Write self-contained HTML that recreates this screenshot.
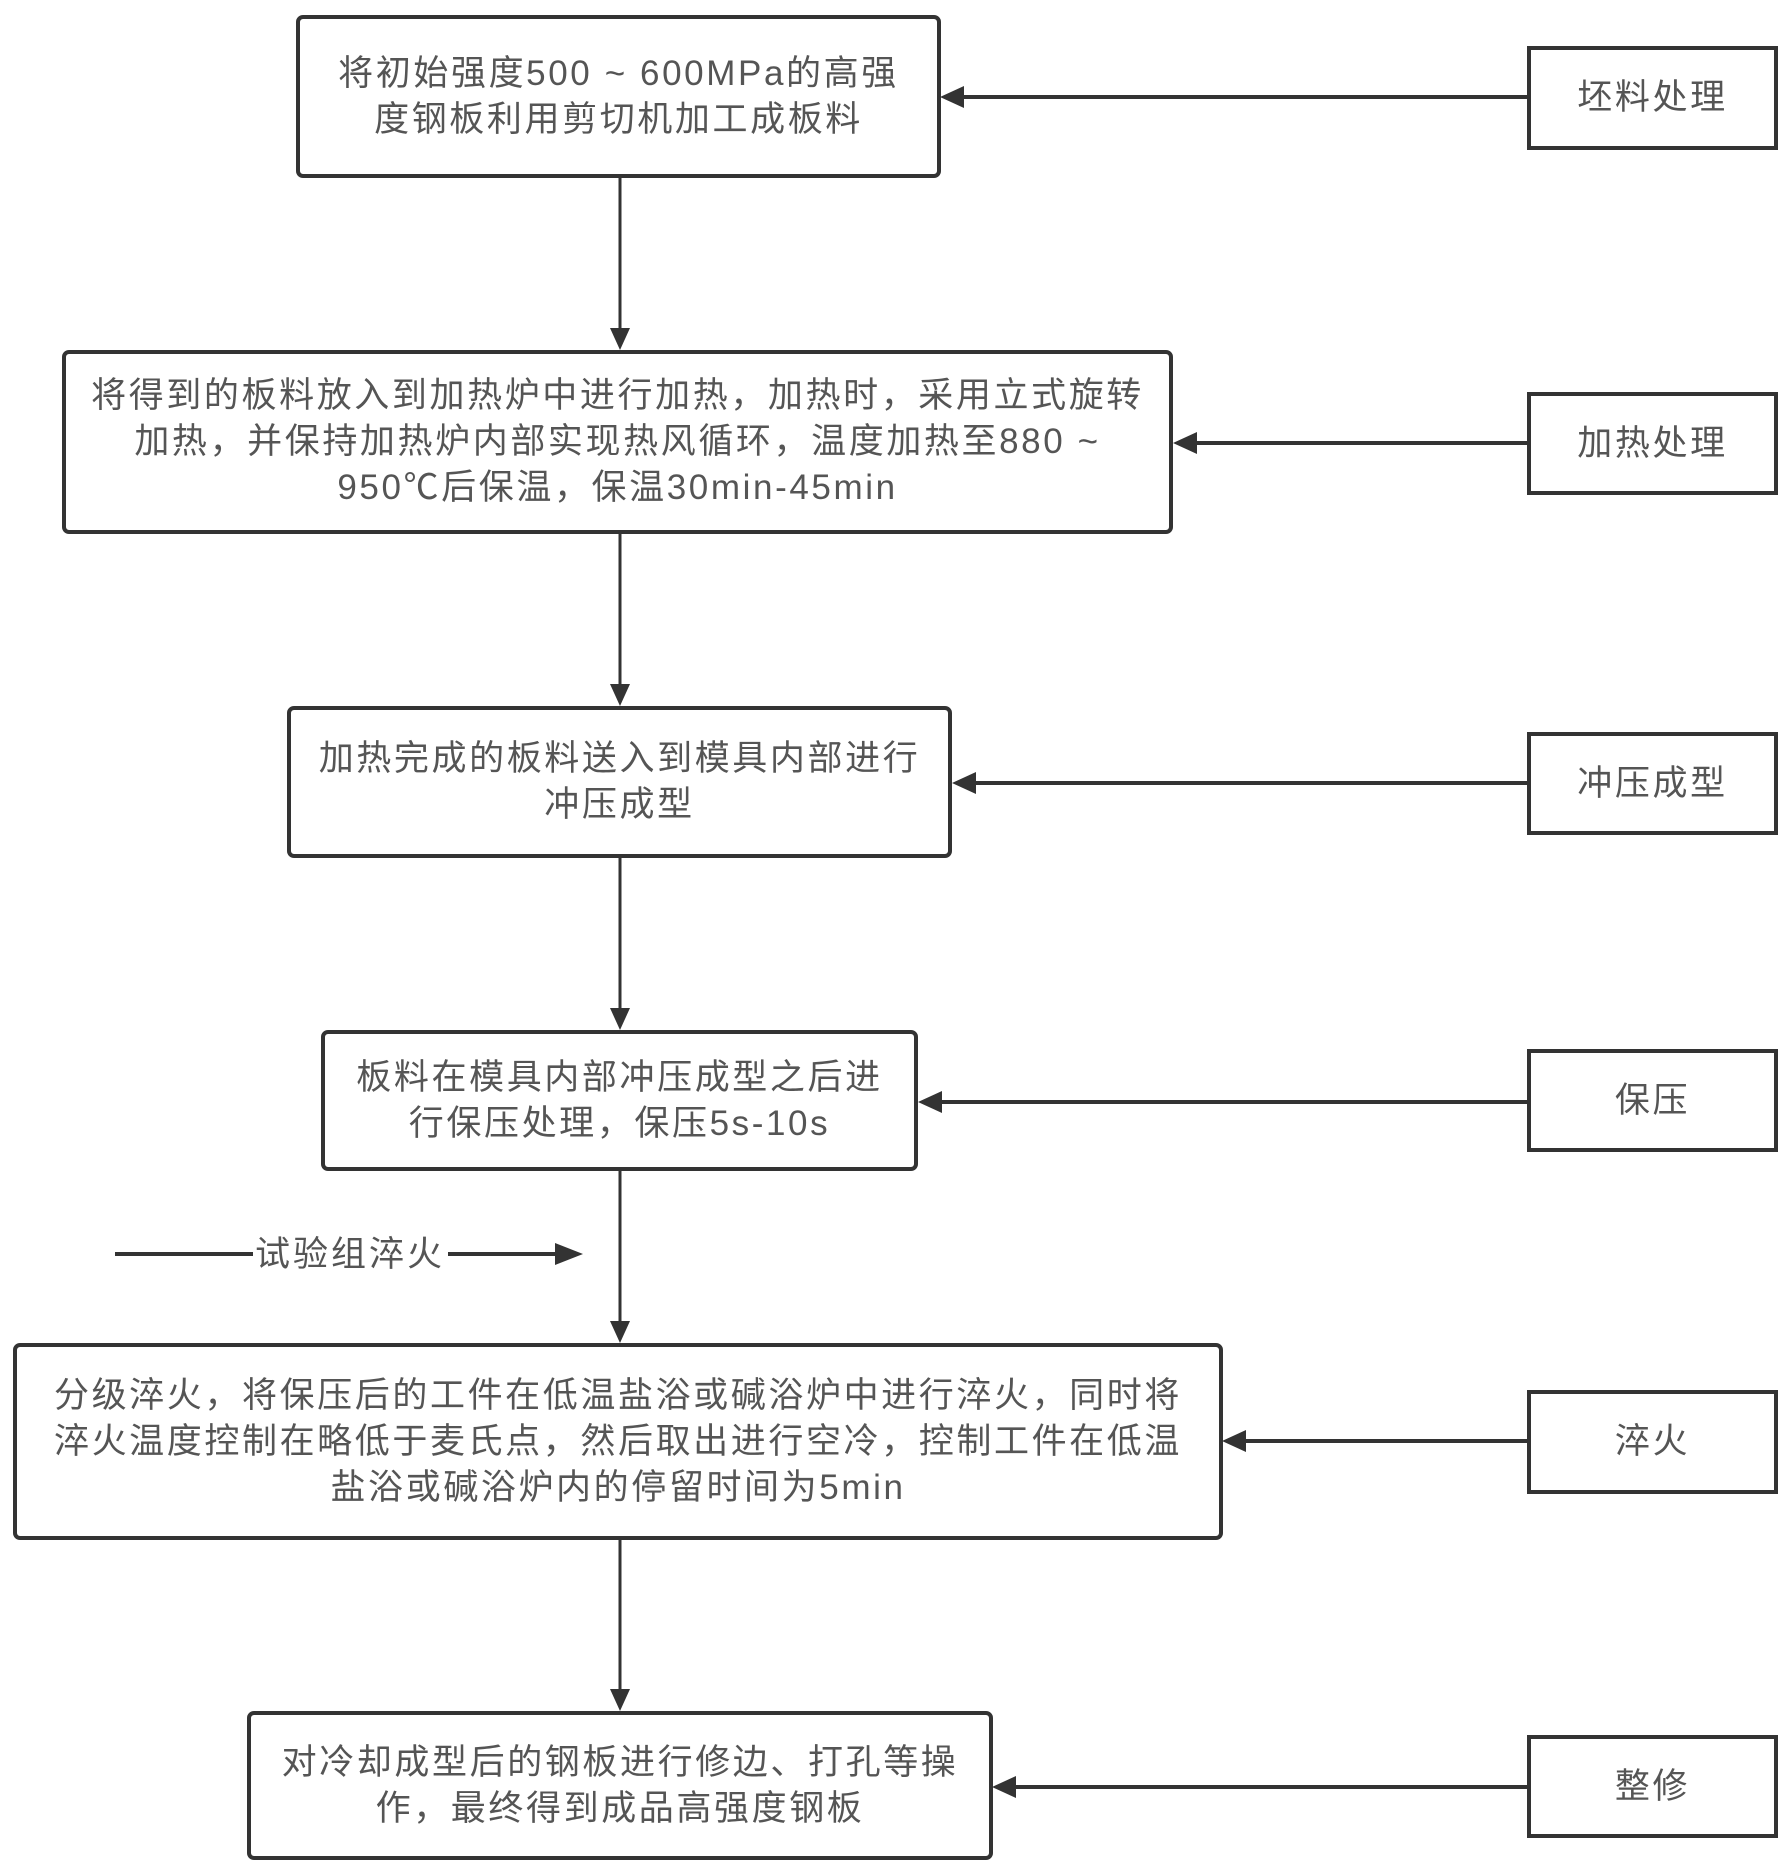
<!DOCTYPE html>
<html><head><meta charset="utf-8"><style>
body{margin:0;width:1792px;height:1874px;background:#fff;position:relative;overflow:hidden;font-family:"Liberation Sans","Noto Sans CJK SC",sans-serif;}
.b{position:absolute;box-sizing:border-box;border:4px solid #333;border-radius:7px;background:#fff;display:flex;align-items:center;justify-content:center;text-align:center;color:#555;font-size:35px;line-height:46px;letter-spacing:2.6px;}
.r{border-radius:0;}
svg{position:absolute;left:0;top:0;}
</style></head><body>
<svg width="1792" height="1874">
<g stroke="#333" stroke-width="3" fill="none">
<line x1="620" y1="178" x2="620" y2="330"/>
<line x1="620" y1="534" x2="620" y2="686"/>
<line x1="620" y1="857" x2="620" y2="1010"/>
<line x1="620" y1="1170" x2="620" y2="1323"/>
<line x1="620" y1="1539" x2="620" y2="1691"/>
<line x1="1527" y1="97" x2="962" y2="97" stroke-width="4"/>
<line x1="1527" y1="443" x2="1195" y2="443" stroke-width="4"/>
<line x1="1527" y1="783" x2="974" y2="783" stroke-width="4"/>
<line x1="1527" y1="1102" x2="940" y2="1102" stroke-width="4"/>
<line x1="1527" y1="1441" x2="1244" y2="1441" stroke-width="4"/>
<line x1="1527" y1="1787" x2="1014" y2="1787" stroke-width="4"/>
<line x1="115" y1="1254" x2="253" y2="1254" stroke-width="4"/>
<line x1="448" y1="1254" x2="555" y2="1254" stroke-width="4"/>
</g>
<g fill="#333">
<path d="M610,328 L630,328 L620,350 z"/>
<path d="M610,684 L630,684 L620,706 z"/>
<path d="M610,1008 L630,1008 L620,1030 z"/>
<path d="M610,1321 L630,1321 L620,1343 z"/>
<path d="M610,1689 L630,1689 L620,1711 z"/>
<path d="M964,86 L964,108 L940,97 z"/>
<path d="M1197,432 L1197,454 L1173,443 z"/>
<path d="M976,772 L976,794 L952,783 z"/>
<path d="M942,1091 L942,1113 L918,1102 z"/>
<path d="M1246,1430 L1246,1452 L1222,1441 z"/>
<path d="M1016,1776 L1016,1798 L992,1787 z"/>
<path d="M555,1243 L555,1265 L583,1254 z"/>
</g>
<text x="350" y="1266" font-size="35" fill="#555" text-anchor="middle" letter-spacing="3" font-family="Liberation Sans, Noto Sans CJK SC, sans-serif">试验组淬火</text>
</svg>
<div class="b" style="left:296px;top:15px;width:645px;height:163px;">将初始强度500 ~ 600MPa的高强<br>度钢板利用剪切机加工成板料</div>
<div class="b" style="left:62px;top:350px;width:1111px;height:184px;">将得到的板料放入到加热炉中进行加热，加热时，采用立式旋转<br>加热，并保持加热炉内部实现热风循环，温度加热至880 ~<br>950℃后保温，保温30min-45min</div>
<div class="b" style="left:287px;top:706px;width:665px;height:152px;">加热完成的板料送入到模具内部进行<br>冲压成型</div>
<div class="b" style="left:321px;top:1030px;width:597px;height:141px;">板料在模具内部冲压成型之后进<br>行保压处理，保压5s-10s</div>
<div class="b" style="left:13px;top:1343px;width:1210px;height:197px;">分级淬火，将保压后的工件在低温盐浴或碱浴炉中进行淬火，同时将<br>淬火温度控制在略低于麦氏点，然后取出进行空冷，控制工件在低温<br>盐浴或碱浴炉内的停留时间为5min</div>
<div class="b" style="left:247px;top:1711px;width:746px;height:149px;">对冷却成型后的钢板进行修边、打孔等操<br>作，最终得到成品高强度钢板</div>
<div class="b r" style="left:1527px;top:46px;width:251px;height:104px;">坯料处理</div>
<div class="b r" style="left:1527px;top:392px;width:251px;height:103px;">加热处理</div>
<div class="b r" style="left:1527px;top:732px;width:251px;height:103px;">冲压成型</div>
<div class="b r" style="left:1527px;top:1049px;width:251px;height:103px;">保压</div>
<div class="b r" style="left:1527px;top:1390px;width:251px;height:104px;">淬火</div>
<div class="b r" style="left:1527px;top:1735px;width:251px;height:103px;">整修</div>
</body></html>
